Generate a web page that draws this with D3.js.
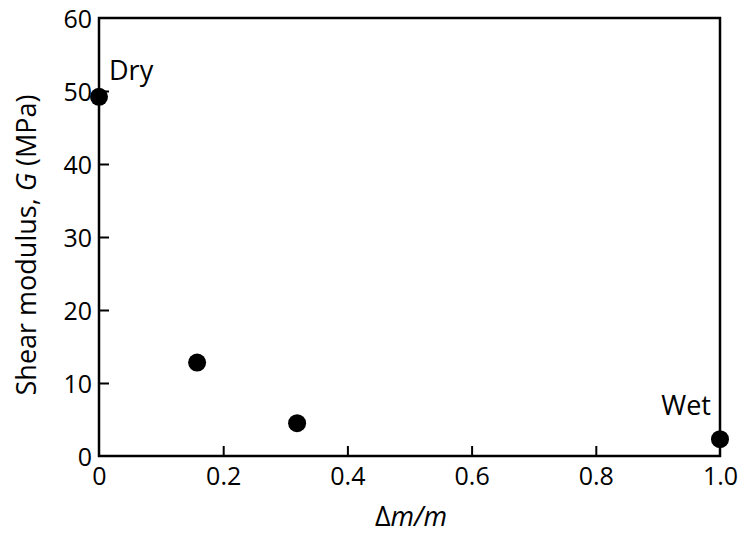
<!DOCTYPE html>
<html>
<head>
<meta charset="utf-8">
<script src="https://cdn.jsdelivr.net/npm/d3@7"></script>
<style>
body { margin: 0; background: #fff; }
text { font-family: "Open Sans", "Noto Sans", sans-serif; fill: #000; }
</style>
</head>
<body>
<script>
var w = 742;
var h = 536;

// data
var massRatio = [0, 0.158, 0.319, 1.0];
var shearModulus = [49.2, 12.8, 4.5, 2.3];
var xTicks = [0, 0.2, 0.4, 0.6, 0.8, 1.0];
var yTicks = [0, 10, 20, 30, 40, 50, 60];
var labels = [{i: 0, text: "Dry"}, {i: 3, text: "Wet"}];

var margin = {top: 18, right: 22, bottom: 80, left: 99};

var svg = d3.select("body")
    .append("svg")
    .attr("width", w)
    .attr("height", h);

var x = d3.scaleLinear()
    .domain([0, 1])
    .range([margin.left, w - margin.right]);

var y = d3.scaleLinear()
    .domain([0, 60])
    .range([h - margin.bottom, margin.top]);

var tickFont = 25;
var titleFont = 27;

// frame
svg.append("rect")
    .attr("x", x(0))
    .attr("y", y(60))
    .attr("width", x(1) - x(0))
    .attr("height", y(0) - y(60))
    .attr("fill", "none")
    .attr("stroke", "#000")
    .attr("stroke-width", 2.5);

var xAxis = svg.append("g")
    .attr("transform", "translate(0," + y(0) + ")")
    .call(d3.axisBottom(x).tickValues(xTicks)
        .tickFormat(function(d) { return d === 0 ? "0" : d3.format(".1f")(d); })
        .tickSizeInner(-10).tickSizeOuter(0).tickPadding(8));

var yAxis = svg.append("g")
    .attr("transform", "translate(" + x(0) + ",0)")
    .call(d3.axisLeft(y).tickValues(yTicks)
        .tickSizeInner(-10).tickSizeOuter(0).tickPadding(7));

[xAxis, yAxis].forEach(function(g) {
    g.select(".domain").remove();
    g.selectAll("line").attr("stroke", "#000").attr("stroke-width", 2);
    g.selectAll("text")
        .style("font-family", "'Open Sans', 'Noto Sans', sans-serif")
        .style("font-size", tickFont + "px")
        .attr("fill", "#000");
});
xAxis.selectAll("text").attr("dy", "0.83em");
yAxis.selectAll("text").attr("dy", "0.36em");

// the end ticks sit on the frame
xAxis.selectAll(".tick").filter(function(d) { return d === 1 || d === 0; }).select("line").remove();
yAxis.selectAll(".tick").filter(function(d) { return d === 60 || d === 0; }).select("line").remove();

// points
svg.selectAll("circle")
    .data(massRatio)
    .enter().append("circle")
    .attr("cx", function(d) { return x(d); })
    .attr("cy", function(d, i) { return y(shearModulus[i]); })
    .attr("r", 9)
    .attr("fill", "#000");

svg.selectAll(".pt-label")
    .data(labels)
    .enter().append("text")
    .attr("class", "pt-label")
    .attr("x", function(d) { return d.text === "Dry" ? x(massRatio[d.i]) + 10 : x(massRatio[d.i]) - 9; })
    .attr("y", function(d) { return d.text === "Dry" ? y(shearModulus[d.i]) - 17 : y(shearModulus[d.i]) - 24; })
    .attr("text-anchor", function(d) { return d.text === "Dry" ? "start" : "end"; })
    .style("font-size", titleFont + "px")
    .text(function(d) { return d.text; });

// axis titles
var xt = svg.append("text")
    .attr("x", 411)
    .attr("y", 526)
    .attr("text-anchor", "middle")
    .style("font-size", titleFont + "px");
xt.append("tspan").text("Δ");
xt.append("tspan").style("font-style", "italic").text("m/m");

var yt = svg.append("text")
    .attr("transform", "translate(36,245) rotate(-90)")
    .attr("text-anchor", "middle")
    .style("font-size", titleFont + "px");
yt.append("tspan").text("Shear modulus, ");
yt.append("tspan").style("font-style", "italic").text("G");
yt.append("tspan").text(" (MPa)");
</script>
</body>
</html>
